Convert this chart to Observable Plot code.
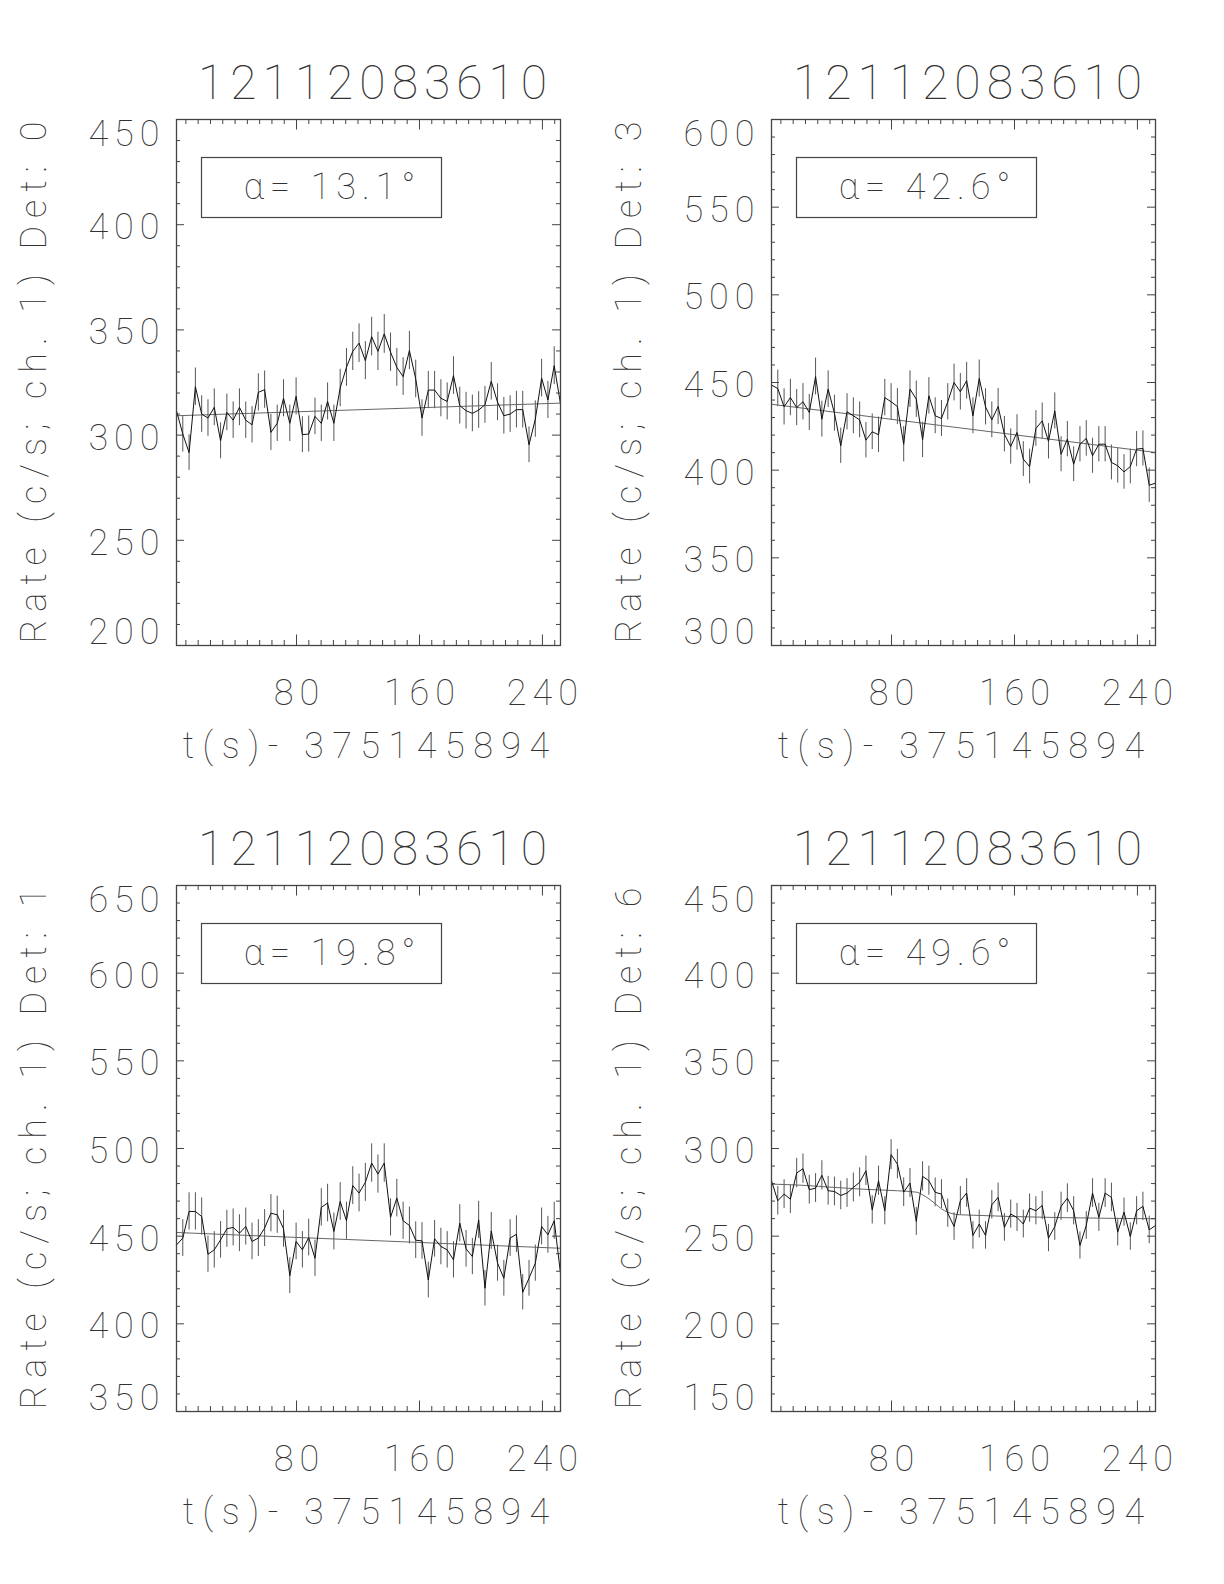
<!DOCTYPE html>
<html>
<head>
<meta charset="utf-8">
<script src="https://cdn.jsdelivr.net/npm/d3@7"></script>
<script src="https://cdn.jsdelivr.net/npm/@observablehq/plot@0.6"></script>
<style>
  html, body { margin: 0; padding: 0; background: #fff; }
  #page { position: relative; width: 1224px; height: 1584px; overflow: hidden; background: #fff; }
  #page svg { position: absolute; }
</style>
</head>
<body>
<div id="page"></div>
<script>
// ---------------- data ----------------
const burstId = "12112083610";
const xLabel = "t(s)- 375145894";
const binStart = 1.9;      // s, first bin
const binWidth = 4.096;    // s, bin width
const nBins = 62;
const xTickLabels = [80, 160, 240];

const detectorIds = [0, 3, 1, 6];
const angles = [13.1, 42.6, 19.8, 49.6];

const rateDet0 = [311.6, 300.5, 291.7, 323.0, 310.0, 308.1, 313.2, 297.3, 310.8, 307.1,
  313.2, 307.1, 304.9, 320.3, 321.6, 301.3, 305.6, 317.5, 305.6, 318.4,
  300.2, 300.5, 308.9, 305.6, 316.0, 305.6, 322.4, 332.2, 339.8, 343.7,
  335.4, 346.8, 339.8, 348.1, 339.4, 332.2, 327.8, 340.2, 326.7, 308.1,
  321.4, 321.4, 317.5, 316.0, 328.3, 314.0, 311.6, 310.3, 311.9, 314.4,
  325.6, 315.6, 309.2, 310.0, 312.1, 312.1, 295.4, 307.6, 327.1, 316.7,
  333.0, 314.8];
const rateDet3 = [448.5, 446.6, 436.1, 441.4, 435.7, 439.0, 432.9, 453.4, 429.1, 446.2,
  432.5, 413.9, 433.3, 431.0, 428.7, 417.1, 421.9, 420.2, 441.4, 439.0,
  436.3, 414.8, 446.2, 440.5, 417.3, 442.4, 431.0, 429.5, 439.0, 450.0,
  444.7, 451.0, 431.0, 452.3, 436.1, 428.7, 436.3, 420.5, 413.5, 421.5,
  406.3, 402.1, 423.8, 428.1, 416.5, 433.8, 409.1, 417.7, 403.4, 414.8,
  418.1, 408.2, 414.8, 414.8, 404.4, 402.5, 399.0, 402.1, 412.0, 412.4,
  391.4, 392.6];
const rateDet1 = [445.0, 448.9, 464.1, 464.1, 461.2, 439.7, 442.2, 447.9, 454.2, 455.0,
  451.7, 455.5, 447.0, 448.9, 454.6, 463.1, 462.2, 454.2, 427.5, 447.0,
  442.2, 449.2, 437.4, 466.4, 468.9, 452.7, 469.8, 458.8, 478.8, 474.6,
  480.7, 491.7, 485.4, 491.7, 460.7, 471.7, 458.8, 456.1, 447.7, 447.3,
  425.0, 448.5, 444.1, 442.2, 436.5, 457.4, 442.8, 438.4, 459.3, 420.3,
  453.0, 434.6, 426.0, 448.9, 451.1, 418.0, 426.0, 434.6, 455.5, 450.8,
  458.8, 428.9];
const rateDet6 = [281.6, 270.2, 274.0, 271.1, 286.0, 288.5, 276.5, 277.4, 284.7, 275.9,
  275.5, 273.2, 274.6, 277.8, 280.7, 287.3, 265.0, 281.6, 264.5, 296.5,
  291.1, 275.1, 280.3, 258.4, 284.1, 281.6, 275.0, 274.0, 263.1, 255.5,
  270.2, 274.6, 250.4, 256.9, 250.4, 267.9, 272.1, 255.0, 262.6, 260.7,
  256.9, 266.0, 264.5, 267.5, 248.9, 255.5, 267.0, 271.7, 264.5, 244.7,
  256.1, 274.6, 260.7, 274.6, 272.1, 252.3, 263.7, 249.8, 264.5, 267.0,
  253.6, 256.1];

// background fit (bin index -> rate)
const fitIdxDet0 = [0, 61];
const fitDet0 = [309.2, 315.2];
const fitIdxDet3 = [0, 61];
const fitDet3 = [437.6, 410.1];
const fitIdxDet1 = [0, 61];
const fitDet1 = [452.1, 443.1];
const fitIdxDet6 = [0, 5, 10, 15, 20, 23, 24, 25, 26, 27, 28, 29, 30, 61];
const fitDet6 = [279.7, 279.0, 277.8, 276.7, 275.9, 275.1, 273.6, 271.3, 268.5, 265.6, 263.7, 262.6, 262.2, 259.9];

const yDomainDet0 = [200, 450];
const yDomainDet3 = [300, 600];
const yDomainDet1 = [350, 650];
const yDomainDet6 = [150, 450];
const yTicksDet0 = [200, 250, 300, 350, 400, 450];
const yTicksDet3 = [300, 350, 400, 450, 500, 550, 600];
const yTicksDet1 = [350, 400, 450, 500, 550, 600, 650];
const yTicksDet6 = [150, 200, 250, 300, 350, 400, 450];

// ---------------- layout ----------------
const W = 600, H = 775;
const mL = 176, mR = 40, mT = 119, mB = 130;
const innerW = W - mL - mR, innerH = H - mT - mB;
const LS = 6;        // letter spacing (ticks, title, annotation)
const LS_X = 8.5;    // letter spacing x label
const LS_Y = 8;      // letter spacing y label
const ink = "#333";

const panels = [
  {det: detectorIds[0], angle: angles[0], rates: rateDet0, fitIdx: fitIdxDet0, fit: fitDet0, dom: yDomainDet0, ticks: yTicksDet0, left: 0, top: 0, curve: "linear"},
  {det: detectorIds[1], angle: angles[1], rates: rateDet3, fitIdx: fitIdxDet3, fit: fitDet3, dom: yDomainDet3, ticks: yTicksDet3, left: 595, top: 0, curve: "linear"},
  {det: detectorIds[2], angle: angles[2], rates: rateDet1, fitIdx: fitIdxDet1, fit: fitDet1, dom: yDomainDet1, ticks: yTicksDet1, left: 0, top: 766, curve: "linear"},
  {det: detectorIds[3], angle: angles[3], rates: rateDet6, fitIdx: fitIdxDet6, fit: fitDet6, dom: yDomainDet6, ticks: yTicksDet6, left: 595, top: 766, curve: "monotone-x"}
];

const binTime = i => binStart + i * binWidth;
const xDomain = [binTime(0), binTime(nBins - 1)];
const xMinor = d3.range(8, xDomain[1], 8).filter(v => v % 80 !== 0);

function boxMark() {
  return (index, scales, values, dims) => {
    const r = document.createElementNS("http://www.w3.org/2000/svg", "rect");
    r.setAttribute("x", dims.marginLeft + 25.5);
    r.setAttribute("y", dims.marginTop + 38.5);
    r.setAttribute("width", 240);
    r.setAttribute("height", 60);
    r.setAttribute("fill", "none");
    r.setAttribute("stroke", "#444");
    r.setAttribute("stroke-width", 1.2);
    return r;
  };
}

const page = document.getElementById("page");

for (const p of panels) {
  const data = p.rates.map((r, i) => ({t: binTime(i), rate: r, err: Math.sqrt(r / binWidth)}));
  const fitData = p.fitIdx.map((k, j) => ({t: binTime(k), rate: p.fit[j]}));
  const [lo, hi] = p.dom;
  const yMinor = d3.range(lo + 10, hi, 10).filter(v => v % 50 !== 0);
  const midTicks = p.ticks.filter(v => v !== lo && v !== hi);
  const yLabel = `Rate (c/s; ch. 1) Det: ${p.det}`;

  const chart = Plot.plot({
    width: W, height: H,
    marginLeft: mL, marginRight: mR, marginTop: mT, marginBottom: mB,
    x: {domain: xDomain, axis: null},
    y: {domain: p.dom, axis: null},
    style: {
      fontFamily: "Roboto, 'DejaVu Sans', sans-serif",
      fontWeight: 100,
      fontSize: "36px",
      letterSpacing: LS + "px",
      color: ink,
      background: "none",
      overflow: "visible"
    },
    marks: [
      // error bars and light curve
      Plot.ruleX(data, {x: "t", y1: d => d.rate - d.err, y2: d => d.rate + d.err, stroke: "#555", strokeWidth: 1}),
      Plot.line(fitData, {x: "t", y: "rate", stroke: "#666", strokeWidth: 1, curve: p.curve}),
      Plot.line(data, {x: "t", y: "rate", stroke: "#111", strokeWidth: 1}),
      // frame
      Plot.frame({stroke: "#444", strokeWidth: 1.3}),
      // inward ticks, x (bottom & top)
      Plot.tickX(xTickLabels, {x: d => d, insetTop: innerH - 10.5, stroke: "#444"}),
      Plot.tickX(xTickLabels, {x: d => d, insetBottom: innerH - 10.5, stroke: "#444"}),
      Plot.tickX(xMinor, {x: d => d, insetTop: innerH - 5, stroke: "#444"}),
      Plot.tickX(xMinor, {x: d => d, insetBottom: innerH - 5, stroke: "#444"}),
      // inward ticks, y (left & right)
      Plot.tickY(p.ticks, {y: d => d, insetRight: innerW - 8, stroke: "#444"}),
      Plot.tickY(p.ticks, {y: d => d, insetLeft: innerW - 8, stroke: "#444"}),
      Plot.tickY(yMinor, {y: d => d, insetRight: innerW - 4, stroke: "#444"}),
      Plot.tickY(yMinor, {y: d => d, insetLeft: innerW - 4, stroke: "#444"}),
      // x tick labels
      Plot.text(xTickLabels, {x: d => d, frameAnchor: "bottom", lineAnchor: "top", dy: 34, dx: LS / 2, text: d => String(d)}),
      // y tick labels
      Plot.text(midTicks, {y: d => d, frameAnchor: "left", textAnchor: "end", lineAnchor: "middle", dx: -17 + LS, dy: 3, text: d => String(d)}),
      Plot.text([hi], {y: d => d, frameAnchor: "left", textAnchor: "end", lineAnchor: "top", dx: -17 + LS, dy: 1, text: d => String(d)}),
      Plot.text([lo], {y: d => d, frameAnchor: "left", textAnchor: "end", lineAnchor: "bottom", dx: -17 + LS, dy: -2, text: d => String(d)}),
      // titles
      Plot.text([burstId], {frameAnchor: "top", lineAnchor: "bottom", dy: -21, dx: 4 + LS / 2, fontSize: 48, text: d => d}),
      Plot.text([xLabel], {frameAnchor: "bottom", lineAnchor: "bottom", dy: 112, dx: -2.5 + LS_X / 2, text: d => d}),
      Plot.text([yLabel], {frameAnchor: "left", rotate: -90, lineAnchor: "middle", textAnchor: "middle", dx: -142, dy: -LS_Y / 2, text: d => d}),
      // angle annotation
      boxMark(),
      Plot.text([`α= ${p.angle.toFixed(1)}°`], {frameAnchor: "top-left", textAnchor: "middle", lineAnchor: "middle", dx: 153 + LS / 2, dy: 68, text: d => d})
    ]
  });
  // wider spacing for the axis titles (as in the vector-font original)
  for (const t of chart.querySelectorAll("text")) {
    if (t.textContent === xLabel) t.style.letterSpacing = LS_X + "px";
    if (t.textContent === yLabel) t.style.letterSpacing = LS_Y + "px";
  }
  chart.style.left = p.left + "px";
  chart.style.top = p.top + "px";
  page.appendChild(chart);
}
</script>
</body>
</html>
